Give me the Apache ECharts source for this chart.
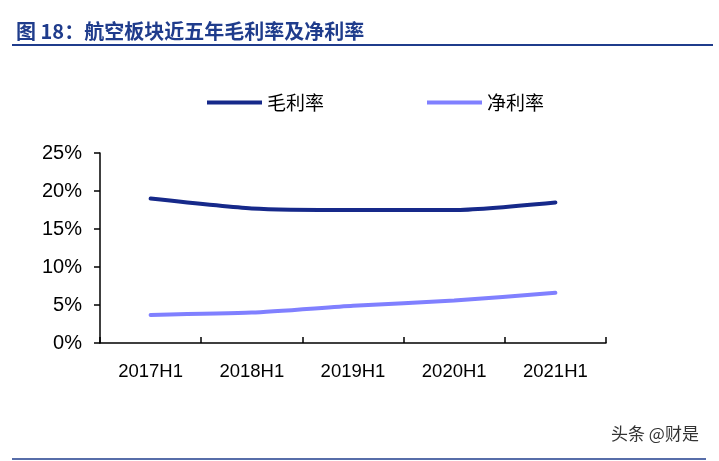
<!DOCTYPE html>
<html>
<head>
<meta charset="utf-8">
<style>
html,body{margin:0;padding:0;background:#fff;}
#chart{width:719px;height:461px;}
</style>
<script src="https://cdn.jsdelivr.net/npm/echarts@6/dist/echarts.min.js"></script>
</head>
<body>
<div id="chart"></div>
<script>
// 数据
var years = ["2017H1", "2018H1", "2019H1", "2020H1", "2021H1"];
var grossMargin = [19.0, 17.7, 17.5, 17.5, 18.5];
var netMargin = [3.7, 4.0, 4.9, 5.6, 6.6];

var myChart = echarts.init(document.getElementById("chart"));

var option = {
    animation: false,
    backgroundColor: "#fff",
    title: {
        text: "图 18：航空板块近五年毛利率及净利率",
        left: 11,
        top: 16,
        textStyle: {
            color: "#1f3c8c",
            fontSize: 20,
            fontWeight: "bold",
            fontFamily: "Noto Sans CJK SC"
        }
    },
    graphic: [
        {
            type: "line",
            shape: {x1: 12, y1: 45, x2: 713, y2: 45},
            style: {stroke: "#1f3c8c", lineWidth: 2}
        },
        {
            type: "line",
            shape: {x1: 12, y1: 459, x2: 706, y2: 459},
            style: {stroke: "#1f3c8c", lineWidth: 1.5}
        },
        {
            type: "text",
            left: 611,
            top: 425,
            style: {
                text: "头条 @财是",
                fill: "#333",
                font: "17px 'Noto Sans CJK SC'"
            }
        }
    ],
    legend: {
        top: 88,
        left: 202,
        itemGap: 103,
        itemWidth: 55,
        itemHeight: 4,
        icon: "rect",
        textStyle: {
            fontSize: 19,
            color: "#000",
            fontFamily: "Noto Sans CJK SC"
        },
        data: ["毛利率", "净利率"]
    },
    grid: {
        left: 100,
        right: 113,
        top: 153,
        bottom: 118
    },
    xAxis: {
        type: "category",
        data: years,
        boundaryGap: true,
        axisLine: {lineStyle: {color: "#000", width: 1.5}},
        axisTick: {show: true, inside: true, length: 6, lineStyle: {color: "#000", width: 1.5}},
        axisLabel: {
            color: "#000",
            fontSize: 18.5,
            fontFamily: "Liberation Sans",
            margin: 19
        },
        splitLine: {show: false}
    },
    yAxis: {
        type: "value",
        min: 0,
        max: 25,
        interval: 5,
        axisLine: {show: true, lineStyle: {color: "#000", width: 1.5}},
        axisTick: {show: true, length: 6, lineStyle: {color: "#000", width: 1.5}},
        axisLabel: {
            color: "#000",
            fontSize: 20,
            fontFamily: "Liberation Sans",
            margin: 18,
            formatter: "{value}%"
        },
        splitLine: {show: false}
    },
    series: [
        {
            name: "毛利率",
            type: "line",
            data: grossMargin,
            smooth: 0.2,
            showSymbol: false,
            symbol: "none",
            lineStyle: {color: "#16298a", width: 4, cap: "round"},
            itemStyle: {color: "#16298a"}
        },
        {
            name: "净利率",
            type: "line",
            data: netMargin,
            smooth: 0.2,
            showSymbol: false,
            symbol: "none",
            lineStyle: {color: "#8080ff", width: 4, cap: "round"},
            itemStyle: {color: "#8080ff"}
        }
    ]
};

myChart.setOption(option);
</script>
</body>
</html>
